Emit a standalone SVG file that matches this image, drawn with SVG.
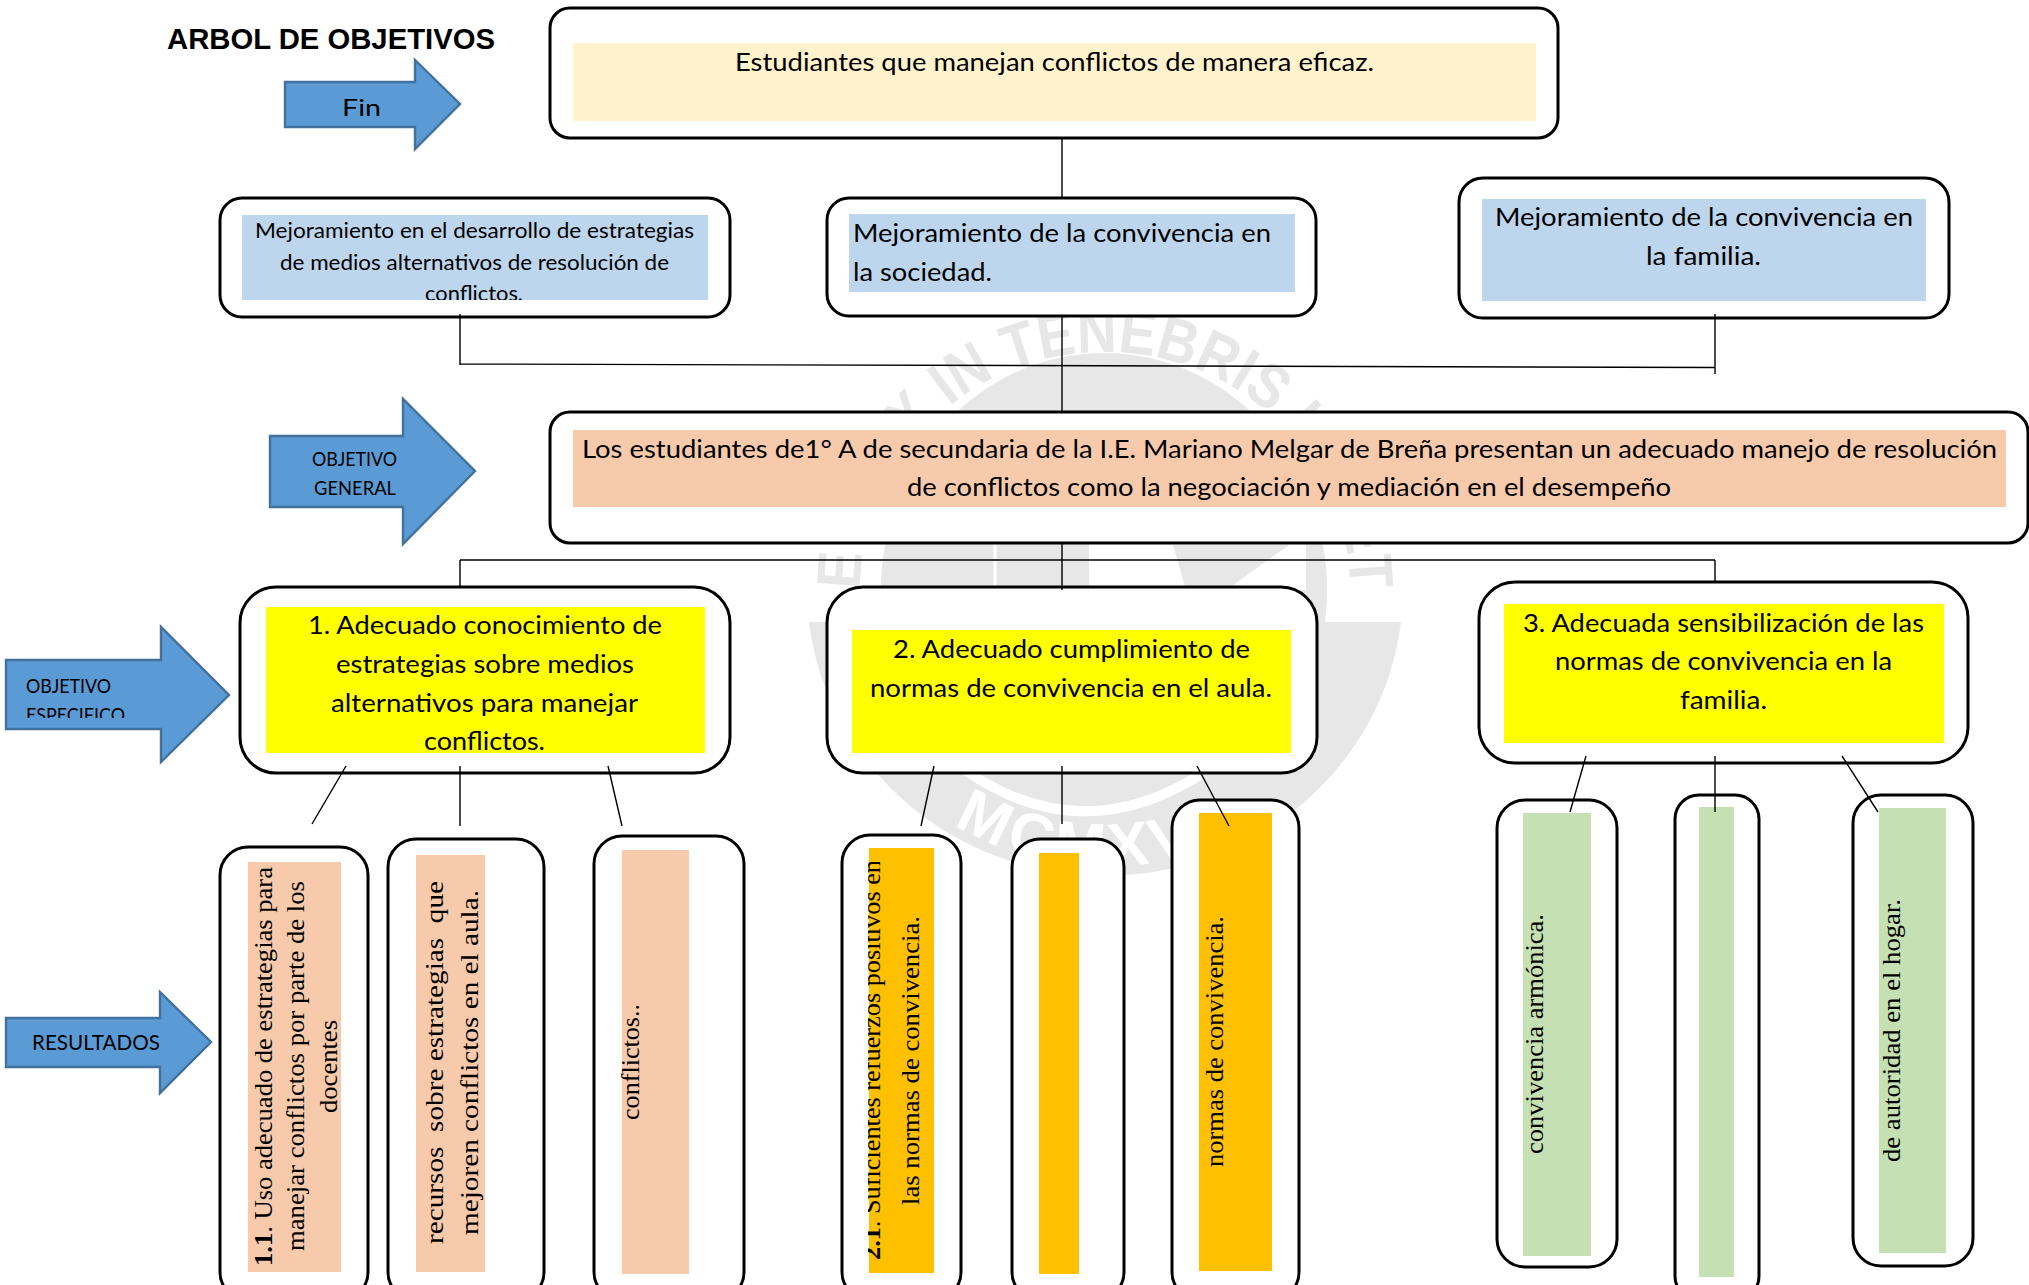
<svg xmlns="http://www.w3.org/2000/svg" width="2029" height="1285" viewBox="0 0 2029 1285">
<style>
.box{fill:#fff;stroke:#000;stroke-width:3}
.arrow{fill:#5b9bd5;stroke:#41719c;stroke-width:2.4}
.c{fill:none;stroke:#000;stroke-width:1.4}
.s{font-family:"Lato","Carlito","Open Sans",sans-serif;fill:#000}
.t{font-size:25px}
.m{font-size:21.5px}
.l{font-size:19px}
.r{font-family:"Liberation Serif","Times New Roman",serif;font-size:26px;fill:#000}
.wm{font-family:"Liberation Sans",Arial,sans-serif;font-size:62px;font-weight:bold;fill:#e8e7e7}
.wm-in{font-family:"Liberation Sans",Arial,sans-serif;font-size:62px;font-weight:bold;fill:#fff;letter-spacing:5px}
.cream{fill:#fff2cc}.blue{fill:#bdd6ee}.peach{fill:#f7caac}.yellow{fill:#ff0}.amber{fill:#ffc000}.green{fill:#c5e0b3}
</style>
<defs>
<path id="wmTop" d="M860 590A245 238 0 0 1 1350 590"/>
<path id="wmBottom" d="M905 787A285 277 0 0 0 1305 787"/>
<clipPath id="clipEsp"><rect x="0" y="640" width="170" height="78"/></clipPath>
<clipPath id="clipConf"><rect x="242" y="215" width="466" height="85"/></clipPath>
<clipPath id="clip21"><rect x="868" y="862" width="70" height="400"/></clipPath>
</defs>
<rect width="2029" height="1285" fill="#fff"/>
<g id="watermark">
<ellipse cx="1104" cy="590" rx="223" ry="237" fill="#e8e7e7"/>
<path d="M995 543V586" stroke="#fff" stroke-width="3" fill="none"/>
<path d="M1089 543H1306V590H1089Z" fill="#fff"/>
<path d="M1173 545H1289L1226 590H1186Z" fill="#e8e7e7"/>
<path d="M809 622A298 287 0 0 0 1401 622Z" fill="#e8e7e7"/>
<path d="M965 770Q1080 850 1200 775" fill="none" stroke="#fff" stroke-width="10"/>
<text class="wm"><textPath href="#wmTop" startOffset="50%" text-anchor="middle" textLength="758" lengthAdjust="spacingAndGlyphs">ET LUX IN TENEBRIS LUCET</textPath></text>
<text class="wm-in"><textPath href="#wmBottom" startOffset="48%" text-anchor="middle">MCMXVII</textPath></text>
</g>
<g id="title"><text x="167" y="49" font-family="Liberation Sans,Arial,sans-serif" font-weight="bold" font-size="29" textLength="328" lengthAdjust="spacingAndGlyphs">ARBOL DE OBJETIVOS</text></g>

<g id="arrow-fin"><polygon class="arrow" points="285,82 415,82 415,60 460,104 415,149 415,127 285,127"/><text class="s" font-size="24" x="342" y="116" textLength="39" lengthAdjust="spacingAndGlyphs">Fin</text></g>
<g id="arrow-general"><polygon class="arrow" points="270,436 403,436 403,399 475,471 403,544 403,507 270,507"/><text class="s l" x="312" y="466" textLength="85" lengthAdjust="spacingAndGlyphs">OBJETIVO</text><text class="s l" x="314" y="495" textLength="82" lengthAdjust="spacingAndGlyphs">GENERAL</text></g>
<g id="arrow-especifico"><polygon class="arrow" points="6,660 161,660 161,627 229,695 161,762 161,729 6,729"/><text class="s l" x="26" y="693" textLength="85" lengthAdjust="spacingAndGlyphs">OBJETIVO</text><text class="s l" x="26" y="722" textLength="99" lengthAdjust="spacingAndGlyphs" clip-path="url(#clipEsp)">ESPECIFICO</text></g>
<g id="arrow-resultados"><polygon class="arrow" points="6,1018 160,1018 160,992 211,1042 160,1093 160,1067 6,1067"/><text class="s" font-size="21" x="32" y="1050" textLength="128" lengthAdjust="spacingAndGlyphs">RESULTADOS</text></g>

<g id="fin"><rect class="box" x="550" y="8" width="1008" height="130" rx="20"/><rect class="cream" x="573" y="43" width="963" height="78"/><text class="s t" x="735" y="71" textLength="639" lengthAdjust="spacingAndGlyphs">Estudiantes que manejan conflictos de manera eficaz.</text></g>

<g id="efecto-1"><rect class="box" x="220" y="198" width="510" height="119" rx="22"/><rect class="blue" x="242" y="215" width="466" height="85"/><text class="s m" x="255" y="238" textLength="439" lengthAdjust="spacingAndGlyphs">Mejoramiento en el desarrollo de estrategias</text><text class="s m" x="280" y="270" textLength="389" lengthAdjust="spacingAndGlyphs">de medios alternativos de resolución de</text><text class="s m" x="425" y="301" textLength="98" lengthAdjust="spacingAndGlyphs" clip-path="url(#clipConf)">conflictos.</text></g>
<g id="efecto-2"><rect class="box" x="827" y="198" width="489" height="118" rx="22"/><rect class="blue" x="849" y="214" width="446" height="78"/><text class="s t" x="853" y="242" textLength="418" lengthAdjust="spacingAndGlyphs">Mejoramiento de la convivencia en</text><text class="s t" x="853" y="281" textLength="139" lengthAdjust="spacingAndGlyphs">la sociedad.</text></g>
<g id="efecto-3"><rect class="box" x="1459" y="178" width="490" height="140" rx="24"/><rect class="blue" x="1482" y="199" width="444" height="102"/><text class="s t" x="1495" y="226" textLength="418" lengthAdjust="spacingAndGlyphs">Mejoramiento de la convivencia en</text><text class="s t" x="1646" y="265" textLength="115" lengthAdjust="spacingAndGlyphs">la familia.</text></g>

<g id="objetivo-general"><rect class="box" x="550" y="412" width="1478" height="131" rx="20"/><rect class="peach" x="573" y="430" width="1433" height="77"/><text class="s t" x="582" y="458" textLength="1415" lengthAdjust="spacingAndGlyphs">Los estudiantes de1° A de secundaria de la I.E. Mariano Melgar de Breña presentan un adecuado manejo de resolución</text><text class="s t" x="907" y="496" textLength="764" lengthAdjust="spacingAndGlyphs">de conflictos como la negociación y mediación en el desempeño</text></g>

<g id="objetivo-1"><rect class="box" x="240" y="587" width="490" height="186" rx="36"/><rect class="yellow" x="266" y="607" width="439" height="146"/><text class="s t" x="308" y="634" textLength="354" lengthAdjust="spacingAndGlyphs">1. Adecuado conocimiento de</text><text class="s t" x="336" y="673" textLength="298" lengthAdjust="spacingAndGlyphs">estrategias sobre medios</text><text class="s t" x="331" y="712" textLength="307" lengthAdjust="spacingAndGlyphs">alternativos para manejar</text><text class="s t" x="424" y="750" textLength="121" lengthAdjust="spacingAndGlyphs">conflictos.</text></g>
<g id="objetivo-2"><rect class="box" x="827" y="587" width="490" height="186" rx="36"/><rect class="yellow" x="852" y="630" width="439" height="123"/><text class="s t" x="893" y="658" textLength="357" lengthAdjust="spacingAndGlyphs">2. Adecuado cumplimiento de</text><text class="s t" x="870" y="697" textLength="402" lengthAdjust="spacingAndGlyphs">normas de convivencia en el aula.</text></g>
<g id="objetivo-3"><rect class="box" x="1479" y="582" width="489" height="181" rx="36"/><rect class="yellow" x="1504" y="604" width="440" height="139"/><text class="s t" x="1523" y="632" textLength="401" lengthAdjust="spacingAndGlyphs">3. Adecuada sensibilización de las</text><text class="s t" x="1555" y="670" textLength="337" lengthAdjust="spacingAndGlyphs">normas de convivencia en la</text><text class="s t" x="1680" y="709" textLength="87" lengthAdjust="spacingAndGlyphs">familia.</text></g>

<g id="resultado-1-1"><rect class="box" x="220" y="847" width="148" height="453" rx="28"/><rect class="peach" x="248" y="862" width="93" height="410"/><text class="r" transform="translate(272 1266) rotate(-90)" textLength="399" lengthAdjust="spacingAndGlyphs"><tspan font-weight="bold">1.1</tspan>. Uso adecuado de estrategias para</text><text class="r" transform="translate(304 1251) rotate(-90)" textLength="370" lengthAdjust="spacingAndGlyphs">manejar conflictos por parte de los</text><text class="r" transform="translate(337 1113) rotate(-90)" textLength="93" lengthAdjust="spacingAndGlyphs">docentes</text></g>
<g id="resultado-1-2"><rect class="box" x="388" y="839" width="156" height="461" rx="28"/><rect class="peach" x="416" y="855" width="69" height="417"/><text class="r" transform="translate(443 1244) rotate(-90)" textLength="363" lengthAdjust="spacingAndGlyphs" xml:space="preserve">recursos  sobre estrategias  que</text><text class="r" transform="translate(478 1235) rotate(-90)" textLength="345" lengthAdjust="spacingAndGlyphs">mejoren conflictos en el aula.</text></g>
<g id="resultado-1-3"><rect class="box" x="594" y="836" width="150" height="464" rx="28"/><rect class="peach" x="622" y="850" width="67" height="424"/><text class="r" transform="translate(639 1120) rotate(-90)" textLength="116" lengthAdjust="spacingAndGlyphs">conflictos..</text></g>

<g id="resultado-2-1"><rect class="box" x="842" y="835" width="119" height="465" rx="28"/><rect class="amber" x="869" y="848" width="65" height="425"/><g clip-path="url(#clip21)"><text class="r" transform="translate(880 1260) rotate(-90)" textLength="400" lengthAdjust="spacingAndGlyphs"><tspan font-weight="bold">2.1</tspan>. Suficientes refuerzos positivos en</text></g><text class="r" transform="translate(919 1205) rotate(-90)" textLength="289" lengthAdjust="spacingAndGlyphs">las normas de convivencia.</text></g>
<g id="resultado-2-2"><rect class="box" x="1012" y="839" width="112" height="461" rx="28"/><rect class="amber" x="1039" y="853" width="40" height="421"/></g>
<g id="resultado-2-3"><rect class="box" x="1172" y="800" width="127" height="500" rx="28"/><rect class="amber" x="1199" y="813" width="73" height="458"/><text class="r" transform="translate(1223 1167) rotate(-90)" textLength="251" lengthAdjust="spacingAndGlyphs">normas de convivencia.</text></g>

<g id="resultado-3-1"><rect class="box" x="1497" y="800" width="120" height="467" rx="28"/><rect class="green" x="1523" y="813" width="68" height="443"/><text class="r" transform="translate(1543 1154) rotate(-90)" textLength="240" lengthAdjust="spacingAndGlyphs">convivencia armónica.</text></g>
<g id="resultado-3-2"><rect class="box" x="1675" y="795" width="84" height="505" rx="24"/><rect class="green" x="1699" y="807" width="35" height="470"/></g>
<g id="resultado-3-3"><rect class="box" x="1853" y="795" width="120" height="471" rx="28"/><rect class="green" x="1879" y="808" width="67" height="445"/><text class="r" transform="translate(1900 1162) rotate(-90)" textLength="263" lengthAdjust="spacingAndGlyphs">de autoridad en el hogar.</text></g>

<g id="connectors">
<path class="c" d="M1062 138V199"/>
<path class="c" d="M1062 316V412"/>
<path class="c" d="M460 314V365M460 364L1715 367.5M1715 314V374"/>
<path class="c" d="M1062 543V590M460 560H1715M460 560V588M1715 560V583"/>
<path class="c" d="M346 766L312 824M460 766V826M608 766L622 826"/>
<path class="c" d="M934 766L921 826M1062 766V824M1197 766L1229 826"/>
<path class="c" d="M1586 756L1570 812M1715 756V812M1842 756L1878 812"/>
</g>
</svg>
